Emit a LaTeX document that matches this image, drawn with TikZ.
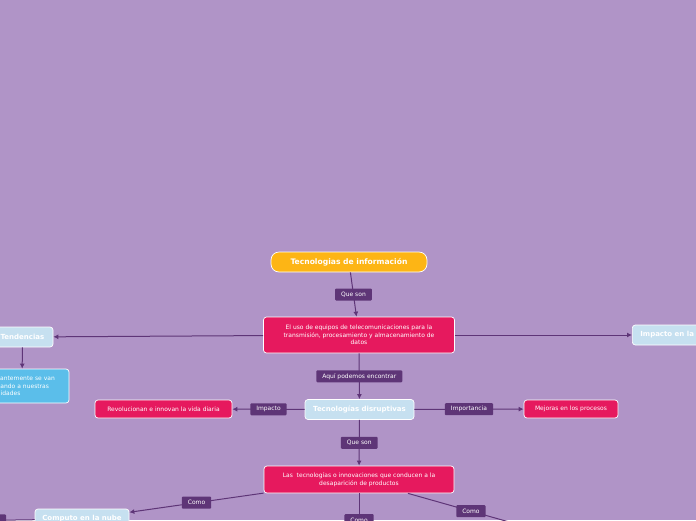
\documentclass[tikz,border=0pt]{standalone}
\usepackage{fontspec}
\setmainfont{DejaVu Sans}
\usetikzlibrary{arrows.meta,positioning}
\definecolor{bgpurple}{HTML}{B094C7}
\definecolor{darkpurple}{HTML}{5E3577}
\definecolor{pinkbox}{HTML}{E6195E}
\definecolor{orangebox}{HTML}{FDB515}
\definecolor{lightbluebox}{HTML}{C6E0F0}
\definecolor{bluebox}{HTML}{5BBEEA}

\begin{document}
\begin{tikzpicture}[x=1pt, y=-1pt, >={Latex[length=5pt,width=5pt]},
  every node/.style={draw=white, line width=0.7pt, rounded corners=3pt, align=center, text=white, font=\fontsize{6}{7.6}\selectfont, minimum height=18pt},
  maintopic/.style={fill=orangebox, rounded corners=8pt, minimum height=20pt, font=\bfseries\fontsize{7.6}{9}\selectfont},
  pinktopic/.style={fill=pinkbox},
  subtopic/.style={fill=lightbluebox, minimum height=20pt, font=\bfseries\fontsize{7}{9}\selectfont},
  bluetopic/.style={fill=bluebox},
  lbl/.style={draw=none, fill=darkpurple, rounded corners=1pt, minimum height=12pt, inner xsep=6pt, inner ysep=1pt},
  conn/.style={draw=darkpurple, line width=1pt}]
\useasboundingbox (0,0) rectangle (696,520);
\clip (0,0) rectangle (696,520);
\fill[bgpurple] (0,0) rectangle (696,520);
\node[maintopic, minimum width=156pt] (tic) at (349,262) {Tecnologias de información};
\node[pinktopic, minimum width=191pt, minimum height=36pt] (uso) at (359,335) {El uso de equipos de telecomunicaciones para la\\transmisión, procesamiento y almacenamiento de\\datos};
\node[subtopic, minimum width=61pt] (tend) at (22.5,337) {Tendencias};
\node[bluetopic, minimum width=94pt, minimum height=34pt, text width=78pt, align=left] (const) at (22,386) {Constantemente se van\\adaptando a nuestras\\necesidades};
\node[subtopic, anchor=west, inner xsep=8pt] (soc) at (632,335) {Impacto en la sociedad};
\node[subtopic, minimum width=109pt] (disr) at (359.5,409.5) {Tecnologías disruptivas};
\node[pinktopic, minimum width=137pt] (rev) at (163.5,409) {Revolucionan e innovan la vida diaria};
\node[pinktopic, minimum width=94pt] (mej) at (571,409) {Mejoras en los procesos};
\node[pinktopic, minimum width=190pt, minimum height=27pt] (las) at (359,479.5) {Las\ \ tecnologías o innovaciones que conducen a la\\desaparición de productos};
\node[subtopic, minimum width=94pt] (nube) at (82,519) {Computo en la nube};
\coordinate (abajo) at (359,547);
\coordinate (derecha) at (534,529);
\coordinate (izquierda) at (-52,521);
\draw[conn,->] (tic) -- node[lbl]{Que son} (uso);
\draw[conn,->] (uso) -- (tend);
\draw[conn,->] (tend) -- (const);
\draw[conn,->] (uso) -- (soc);
\draw[conn,->] (uso) -- node[lbl]{Aquí podemos encontrar} (disr);
\draw[conn,->] (disr) -- node[lbl]{Impacto} (rev);
\draw[conn,->] (disr) -- node[lbl]{Importancia} (mej);
\draw[conn,->] (disr) -- node[lbl]{Que son} (las);
\draw[conn,->] (las) -- node[lbl]{Como} (nube);
\draw[conn,->] (las) -- node[lbl]{Como} (abajo);
\draw[conn,->] (las) -- node[lbl]{Como} (derecha);
\draw[conn,->] (nube) -- node[lbl]{Como} (izquierda);
\end{tikzpicture}
\end{document}
